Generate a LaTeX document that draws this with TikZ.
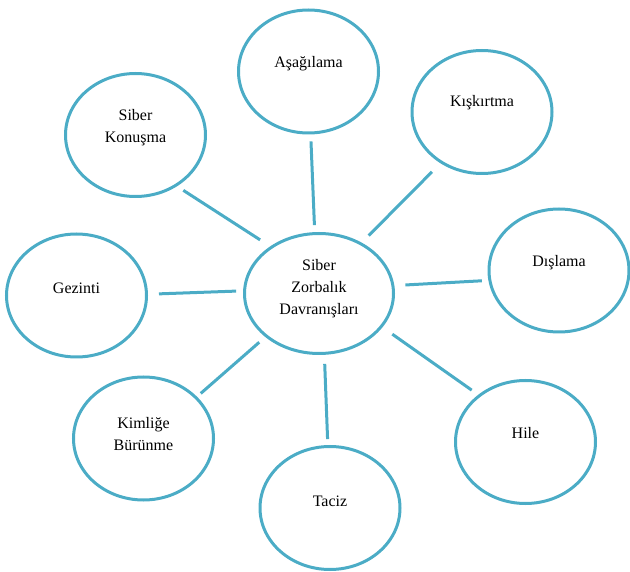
\documentclass[tikz,border=0pt]{standalone}
\usepackage{fontspec}
\setmainfont{Liberation Serif}
\usetikzlibrary{shapes.geometric}
\definecolor{ringblue}{HTML}{4BACC6}
\tikzset{
  bubble/.style={draw=ringblue, line width=3pt, ellipse, inner sep=0pt,
    minimum width=140pt, minimum height=123pt},
  bigbubble/.style={bubble, minimum width=149pt, minimum height=120pt},
  conn/.style={draw=ringblue, line width=3pt},
  txt/.style={font=\fontsize{16}{22}\selectfont, align=center, text=black}
}
\begin{document}
\begin{tikzpicture}[x=1pt,y=-1pt]
\useasboundingbox (0,0) rectangle (630,572);
\node[bigbubble, label={[txt,yshift=5pt]center:{Siber\\Zorbalık\\Davranışları}}] (c) at (319,293.5) {};
\node[bubble, label={[txt,yshift=8pt]center:{Aşağılama}}] (a) at (308.5,71.5) {};
\node[bubble, label={[txt,yshift=9pt]center:{Kışkırtma}}] (k) at (482,112) {};
\node[bubble, label={[txt,yshift=7.5pt]center:{Siber\\Konuşma}}] (sk) at (135.5,135) {};
\node[bubble, label={[txt,yshift=7.5pt]center:{Dışlama}}] (d) at (559,270.5) {};
\node[bubble, label={[txt,yshift=7.5pt]center:{Gezinti}}] (g) at (76.5,295.5) {};
\node[bubble, label={[txt,yshift=9pt]center:{Hile}}] (h) at (525.5,442) {};
\node[bubble, label={[txt,yshift=4.5pt]center:{Kimliğe\\Bürünme}}] (kb) at (143.5,438.5) {};
\node[bubble, label={[txt,yshift=7pt]center:{Taciz}}] (t) at (330,508) {};
\draw[conn, shorten <=7pt, shorten >=7pt] (a.-88) -- (c.94);
\draw[conn, shorten <=12pt, shorten >=10pt] (k.-129) -- (c.50);
\draw[conn, shorten <=7.5pt, shorten >=12pt] (sk.-51) -- (c.136);
\draw[conn, shorten <=6.5pt, shorten >=11pt] (d.188) -- (c.6);
\draw[conn, shorten <=11pt, shorten >=7pt] (g.1) -- (c.178);
\draw[conn, shorten <=8pt, shorten >=12pt] (h.135) -- (c.-28);
\draw[conn, shorten <=5pt, shorten >=8pt] (kb.38) -- (c.-141);
\draw[conn, shorten <=6pt, shorten >=9pt] (t.92) -- (c.-85);
\end{tikzpicture}
\end{document}
